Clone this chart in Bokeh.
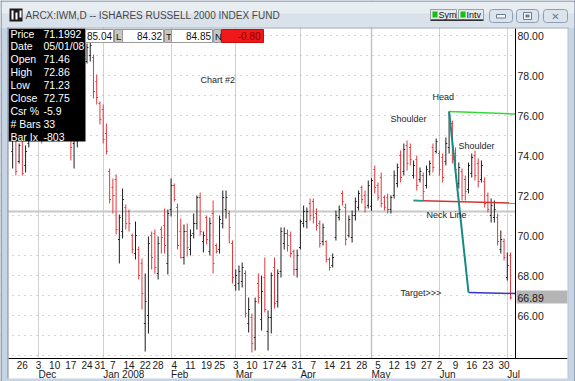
import pandas as pd
import numpy as np
from bokeh.plotting import figure
from bokeh.models import (Range1d, FixedTicker, NumeralTickFormatter, Span, Label,
                          BoxAnnotation, ColumnDataSource, LinearAxis, Grid)
from bokeh.embed import file_html
from bokeh.resources import INLINE

# ---------------- data ----------------
holidays = ["2007-11-22", "2007-12-25", "2008-01-01", "2008-01-21",
            "2008-02-18", "2008-03-21", "2008-05-26"]
trading_days = [d for d in pd.bdate_range("2007-11-20", "2008-07-02")
                if d.strftime("%Y-%m-%d") not in holidays]

opens = [74.2, 74.9, 73.7, 74.8, 73.5, 74.6, 76.1, 77.2, 77.2, 76.0,
         75.8, 76.8, 78.3, 78.7, 79.7, 77.3, 77.6, 77.1, 76.0, 74.6,
         74.9, 75.5, 76.6, 78.7, 79.0, 78.9, 77.7, 76.6, 76.3, 75.1,
         73.2, 72.4, 72.8, 69.8, 70.2, 71.4, 71.2, 70.0, 69.1, 69.3,
         68.6, 65.6, 66.0, 70.0, 70.1, 68.1, 70.3, 70.5, 68.6, 71.3,
         72.5, 71.4, 70.2, 68.9, 70.2, 69.3, 70.1, 70.6, 71.9, 69.7,
         70.9, 69.2, 71.1, 69.5, 69.3, 70.6, 71.3, 71.1, 69.6, 67.5,
         67.6, 67.7, 68.1, 65.6, 65.9, 64.9, 67.6, 65.8, 67.9, 65.2,
         65.9, 68.4, 66.7, 68.2, 69.6, 70.1, 70.0, 69.2, 68.3, 69.4,
         70.6, 70.7, 71.6, 71.7, 71.1, 70.6, 69.7, 69.7, 68.8, 68.5,
         69.9, 70.9, 72.1, 71.4, 70.0, 69.9, 71.0, 71.4, 72.4, 72.0,
         71.5, 71.46, 73.3, 72.5, 72.9, 71.9, 71.9, 71.3, 72.0, 72.6,
         74.0, 73.2, 74.5, 74.4, 73.0, 73.8, 72.8, 73.0, 72.5, 73.2,
         74.4, 74.2, 74.1, 73.9, 73.7, 74.4, 75.6, 74.1, 72.6, 73.2,
         72.8, 72.3, 73.1, 74.0, 73.6, 72.8, 72.7, 72.0, 71.0, 70.9,
         70.9, 69.3, 69.7, 67.9, 69.0]
highs = [75.6, 75.0, 74.6, 75.0, 74.5, 76.4, 76.9, 77.9, 77.4, 76.3,
         76.9, 78.5, 78.9, 79.8, 80.0, 78.9, 77.8, 77.3, 76.3, 75.3,
         75.8, 76.4, 78.0, 79.6, 79.7, 79.05, 78.05, 76.7, 76.55, 75.6,
         73.35, 72.85, 73.05, 71.05, 72.35, 71.55, 71.3, 70.1, 70.7, 69.45,
         68.85, 68.1, 69.95, 70.2, 70.3, 69.95, 70.45, 71.35, 71.3, 72.85,
         72.6, 71.6, 70.85, 70.55, 70.6, 70.3, 71.1, 72.0, 72.15, 70.2,
         71.0, 70.9, 71.75, 69.6, 71.0, 72.25, 72.25, 71.25, 69.75, 68.3,
         68.5, 68.65, 68.25, 66.9, 66.1, 66.9, 68.1, 68.0, 68.9, 66.25,
         68.15, 68.9, 68.3, 70.4, 70.4, 70.3, 70.2, 69.3, 69.3, 70.8,
         71.5, 71.4, 71.85, 71.85, 71.35, 70.75, 70.6, 69.75, 68.9, 69.1,
         71.25, 71.5, 72.25, 71.6, 71.0, 71.25, 71.9, 72.25, 72.5, 72.25,
         72.75, 72.86, 73.5, 72.65, 73.15, 72.0, 72.1, 72.0, 73.25, 73.6,
         74.25, 74.6, 74.75, 74.6, 73.75, 74.0, 73.4, 73.15, 73.5, 73.75,
         74.6, 74.85, 74.25, 74.1, 74.9, 76.2, 75.75, 74.4, 73.65, 73.35,
         73.0, 73.65, 74.1, 74.25, 73.85, 73.75, 72.9, 72.15, 71.85, 71.75,
         71.1, 70.25, 69.85, 69.15, 69.15]
lows = [73.35, 73.0, 73.6, 73.0, 73.15, 74.4, 75.8, 76.6, 76.0, 74.6,
        75.6, 76.7, 78.0, 78.5, 76.9, 76.6, 76.5, 75.9, 73.75, 73.35,
        74.4, 75.2, 76.5, 78.6, 78.7, 76.85, 76.55, 75.55, 74.6, 74.05,
        71.6, 71.1, 70.05, 68.6, 69.85, 70.3, 70.2, 69.1, 68.8, 67.8,
        66.3, 64.2, 65.1, 68.3, 68.1, 67.8, 69.1, 69.1, 68.05, 70.95,
        71.7, 69.3, 68.85, 68.55, 68.95, 69.0, 69.85, 70.3, 70.0, 69.15,
        69.55, 69.0, 68.1, 69.1, 69.1, 70.35, 70.85, 69.6, 67.6, 67.25,
        67.25, 67.4, 65.9, 65.15, 64.15, 64.25, 66.6, 65.25, 66.15, 64.25,
        65.1, 66.35, 66.4, 67.9, 69.3, 69.2, 68.9, 68.0, 67.9, 69.3,
        70.4, 70.35, 70.75, 70.6, 70.25, 69.4, 69.5, 68.65, 68.25, 68.4,
        69.75, 70.75, 71.5, 69.5, 69.9, 69.65, 70.75, 71.25, 71.6, 71.15,
        71.35, 71.23, 72.1, 71.75, 71.4, 71.25, 71.1, 71.1, 71.85, 72.4,
        72.65, 73.0, 73.25, 73.5, 72.85, 72.25, 72.65, 71.75, 72.35, 73.0,
        73.15, 74.1, 73.0, 72.65, 73.5, 74.1, 73.6, 73.15, 72.35, 71.75,
        71.75, 72.1, 72.9, 72.75, 72.4, 72.65, 71.4, 71.15, 70.65, 70.65,
        69.5, 69.1, 68.75, 67.75, 66.8]
closes = [75.2, 73.2, 74.5, 73.1, 74.2, 76.3, 76.6, 77.3, 76.2, 75.4,
          76.8, 78.4, 78.6, 79.6, 77.0, 77.6, 77.2, 76.1, 74.4, 75.0,
          75.3, 76.2, 77.9, 79.4, 79.5, 77.2, 76.9, 75.8, 74.8, 74.2,
          71.8, 72.0, 70.3, 70.9, 71.8, 70.6, 70.6, 69.3, 70.0, 68.0,
          67.1, 66.7, 69.6, 68.9, 68.4, 69.6, 69.9, 69.5, 71.1, 72.5,
          71.8, 69.5, 68.9, 70.2, 69.4, 70.0, 70.6, 71.9, 70.2, 70.0,
          69.8, 70.6, 68.6, 69.2, 70.8, 71.9, 71.9, 70.4, 67.9, 68.0,
          68.2, 68.4, 66.1, 66.3, 64.6, 66.7, 66.9, 67.2, 66.3, 65.9,
          68.0, 66.6, 68.1, 70.2, 70.1, 69.5, 69.1, 68.3, 69.0, 70.7,
          71.2, 71.2, 71.0, 70.9, 70.5, 69.6, 70.4, 68.8, 68.4, 68.9,
          71.0, 71.3, 71.7, 69.8, 70.8, 71.0, 71.7, 72.1, 71.8, 71.4,
          72.5, 72.75, 72.4, 71.9, 71.6, 71.4, 71.3, 71.9, 73.0, 73.4,
          72.9, 74.3, 73.6, 73.8, 73.5, 72.5, 73.2, 72.2, 73.3, 73.6,
          73.4, 74.7, 73.3, 72.9, 74.6, 75.9, 73.8, 73.3, 73.4, 72.0,
          72.2, 73.5, 73.9, 73.0, 72.7, 73.5, 71.6, 71.3, 71.5, 71.3,
          69.7, 69.8, 68.9, 68.5, 66.89]

n = len(trading_days)
assert len(opens) == len(highs) == len(lows) == len(closes) == n

last_price = 66.89
crosshair_price = 71.1992
crosshair_date = "2008-05-01"

info_names = ["Price", "Date", "Open", "High", "Low", "Close", "Csr %", "# Bars", "Bar Ix"]
info_values = ["71.1992", "05/01/08", "71.46", "72.86", "71.23", "72.75", "-5.9", "33", "-803"]

strip_values = ["85.04", "84.32", "84.85"]
strip_tags = ["L", "T", "N"]
net_change = "-0.80"

head_date, head_price, head_line_end = "2008-06-05", 76.2, 76.08
target_date, target_price, target_line_end = "2008-06-13", 67.15, 67.10
neck_date, neck_price, neck_line_end = "2008-05-20", 71.75, 71.62
neck_stub_date = "2008-05-23"

y_ticks = [66, 68, 70, 72, 74, 76, 78, 80]
y_grid = list(range(64, 81))

title_text = "ARCX:IWM,D -- ISHARES RUSSELL 2000 INDEX FUND"

# ---------------- derived ----------------
pos = {d.strftime("%Y-%m-%d"): i for i, d in enumerate(trading_days)}
week_ticks, week_labels, seen = [], {}, set()
for i, d in enumerate(trading_days):
    key = tuple(d.isocalendar())[:2]
    if key not in seen:
        seen.add(key)
        if i > 0:
            week_ticks.append(i)
            week_labels[i] = str(d.day)
month_ticks, month_names = [], []
prev = trading_days[0].month
for i, d in enumerate(trading_days):
    if d.month != prev:
        month_ticks.append(i)
        month_names.append(d.strftime("%b") + (" " + str(d.year) if d.month == 1 else ""))
        prev = d.month

RED, BLK = "#e4373d", "#1e1e1e"
colors = [RED if c < o else BLK for o, c in zip(opens, closes)]
xs = np.arange(n)
src = ColumnDataSource(dict(x=xs, xl=xs - 0.42, xr=xs + 0.42, lo=lows, hi=highs,
                            op=opens, cl=closes, color=colors))

# ---------------- figure (frame = whole window) ----------------
W, H = 575, 381
FONT = "Liberation Sans"
xr = Range1d(-3.758, 174.095)
yr = Range1d(62.7, 81.75)


def dx(px):
    return xr.start + px * (xr.end - xr.start) / W


def dy(py):
    return yr.end - py * (yr.end - yr.start) / H


p = figure(width=W, height=H, output_backend="svg", toolbar_location=None, tools="",
           x_range=xr, y_range=yr, x_axis_type=None, y_axis_type=None, min_border=0)
try:
    p.title = None
except Exception:
    p.title.visible = False
p.background_fill_color = "white"
p.border_fill_color = "white"
p.outline_line_color = None

p.add_layout(Grid(dimension=0, ticker=FixedTicker(ticks=month_ticks),
                  grid_line_color="#d2d2d2"))
p.add_layout(Grid(dimension=1, ticker=FixedTicker(ticks=y_grid),
                  grid_line_color="#a8a8a8", grid_line_dash="1 5"))
p.add_layout(Span(location=crosshair_price, dimension="width", line_color="#c8c8c8",
                  line_width=2, level="underlay"))
p.add_layout(Span(location=pos[crosshair_date], dimension="height", line_color="#c4c4c4",
                  line_width=1.5, level="underlay"))


def box(x0, y0, x1, y1, fill, line=None, lw=1, radius=0, level="annotation"):
    p.add_layout(BoxAnnotation(left=x0, right=x1, top=H - y0, bottom=H - y1,
                               left_units="screen", right_units="screen",
                               top_units="screen", bottom_units="screen",
                               fill_color=fill, fill_alpha=1,
                               line_color=line if line else "white",
                               line_alpha=1 if line else 0, line_width=lw,
                               border_radius=radius, level=level))


def text(x, y, s, size="10px", color="#000000", align="left", font=FONT):
    p.add_layout(Label(x=x, y=H - y, x_units="screen", y_units="screen", text=s,
                       text_font=font, text_font_size=size, text_color=color,
                       text_align=align, text_baseline="middle"))


# white areas holding the axis labels (under the axes)
box(515.5, 0, 575, 381, "white", level="underlay")
box(0, 358.5, 575, 381, "white", level="underlay")

# axes
xaxis = LinearAxis(ticker=FixedTicker(ticks=week_ticks), major_label_overrides=week_labels,
                   fixed_location=dy(358), bounds=(dx(7.5), dx(567)))
yaxis = LinearAxis(ticker=FixedTicker(ticks=y_ticks),
                   formatter=NumeralTickFormatter(format="0.00"),
                   fixed_location=dx(515), bounds=(dy(358), dy(27.5)))
for ax in (xaxis, yaxis):
    ax.axis_line_color = "black"
    ax.major_tick_out = 0
    ax.major_tick_in = 0
    ax.minor_tick_out = 0
    ax.minor_tick_in = 0
    ax.major_label_text_font = FONT
    ax.major_label_text_color = "#1a1a1a"
xaxis.major_label_text_font_size = "10px"
xaxis.major_label_standoff = 2
yaxis.major_label_text_font_size = "10.5px"
yaxis.major_label_standoff = 2
p.add_layout(xaxis, "below")
p.add_layout(yaxis, "right")

# bars
p.segment("x", "lo", "x", "hi", line_color="color", line_width=1, source=src)
p.segment("xl", "op", "x", "op", line_color="color", line_width=1, source=src)
p.segment("x", "cl", "xr", "cl", line_color="color", line_width=1, source=src)

# pattern lines
x_end = dx(515)
hk, tk, nk, nk2 = pos[head_date], pos[target_date], pos[neck_date], pos[neck_stub_date]
p.line([hk, x_end], [head_price, head_line_end], line_color="#36d936", line_width=1.5)
p.line([nk, x_end], [neck_price, neck_line_end], line_color="#cf3535", line_width=1.5)
stub_y = neck_price + (neck_line_end - neck_price) * (nk2 - nk) / (x_end - nk)
p.line([nk, nk2], [neck_price, stub_y], line_color="#2a9a80", line_width=1.5)
p.line([tk, x_end], [target_price, target_line_end], line_color="#3535c8", line_width=1.5)
p.line([hk, tk], [head_price, target_price], line_color="#168a84", line_width=2)

# chart annotations
ANN = "9px"
text(200, 79, "Chart #2", ANN, "#1e1e1e")
text(432, 96, "Head", ANN, "#1e1e1e")
text(390, 118, "Shoulder", ANN, "#1e1e1e")
text(458, 145, "Shoulder", ANN, "#1e1e1e")
text(426, 214, "Neck Line", ANN, "#1e1e1e")
text(400, 292, "Target>>>", ANN, "#1e1e1e")

# month labels (second row under the date axis)
for k, name in zip(month_ticks, month_names):
    p.add_layout(Label(x=k, y=H - 374, x_units="data", y_units="screen", text=name,
                       text_font=FONT, text_font_size="10px", text_color="#1a1a1a",
                       text_align="left", text_baseline="middle"))

# last price tag
box(516, 290, 567, 303, "#b5b5b5")
text(517, 297, f"{last_price:.2f}", "10.5px", "#1a1a1a")

# info box
box(8, 28, 85, 141, "#000000")
for r, (nm, vl) in enumerate(zip(info_names, info_values)):
    yy = 33 + r * 12.9
    text(10, yy, nm, "10.5px", "white")
    text(43, yy, vl, "10.5px", "white")

# quote strip
strip_x = [(85, 113, 114, 122), (122, 163, 164, 171), (171, 212, 213, 220)]
for (a, b, c, d), v, t in zip(strip_x, strip_values, strip_tags):
    box(a, 29, b, 42, "white", "#9a9a9a")
    text(b - 1.5, 35.5, v, "10px", "#111111", align="right")
    box(c, 29, d, 42, "#c6c6c6", "#9a9a9a")
    text(c + 1.5, 35.5, t, "9.5px", "#111111")
box(221, 29, 263, 42, "#f01818", "#c01010")
text(260, 35.5, net_change, "10px", "#8a0000", align="right")

# window chrome
box(0, 0, 575, 27, "#d9e1ea")
box(0, 0, 575, 13, "#e8edf2")
box(0, 27, 7.5, 381, "#c7d4e3")
box(567.5, 27, 575, 381, "#c7d4e3")
box(0, 378, 575, 381, "#c7d4e3")
box(7, 27, 568, 28, "#9aa4b0")
box(7, 27, 8, 378, "#7d8896")
box(567, 27, 568, 378, "#b9c2cc")
box(0, 0, 575, 1, "#64758a")
box(0, 0, 1, 381, "#64758a")
box(574, 0, 575, 381, "#64758a")
# icon
box(9, 8, 22, 21, "#1c1c1c")
box(11, 10, 13, 19, "white")
box(15, 12, 17, 19, "white")
box(19, 10, 21, 17, "white")
text(25, 14.5, title_text, "10px", "#474747")
# Sym / Intv
box(430, 9, 456, 19, "#e6e9ee", "#9aa0a8")
box(432, 11, 437, 17, "#11c211")
text(438, 14, "Sym", "9px", "#111111")
box(458, 9, 483, 19, "#e6e9ee", "#9aa0a8")
box(460, 11, 465, 17, "#11c211")
text(466, 14, "Intv", "9px", "#111111")
box(430, 19, 483, 20.5, "#333333")
# window buttons
for a, b in [(489, 512), (516, 538), (543, 567)]:
    box(a, 9, b, 22, "#dbe3ed", "#8d9db3", radius=3)
box(496, 14, 505, 17.5, "#f4f6f9", "#6a7a90")
box(523, 12, 531, 19, "#f4f6f9", "#6a7a90")
box(525, 14, 529, 17, "#6a7a90")
text(555, 15.5, "\u2715", "10px", "#6a7a90", align="center", font="DejaVu Sans")

open("out.html", "w").write(file_html(p, INLINE))
